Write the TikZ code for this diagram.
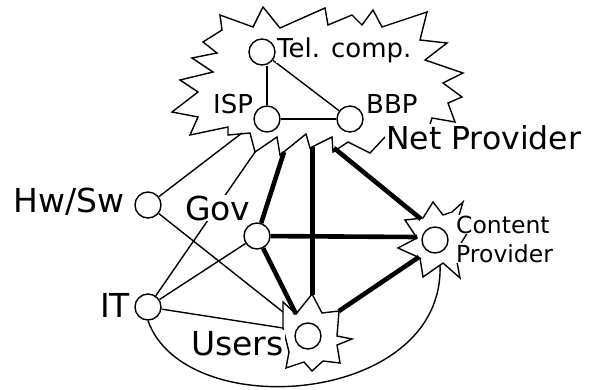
\documentclass[tikz,border=0pt]{standalone}
\usepackage{fontspec}
\setmainfont{DejaVu Sans}
\begin{document}
\begin{tikzpicture}[x=1pt,y=-1pt,
  dot/.style={circle, draw, line width=1.4pt, minimum size=26pt, inner sep=0pt, fill=white},
  thin/.style={line width=1.4pt},
  heavy/.style={line width=4.6pt},
  burst/.style={draw, line width=1.4pt, line join=miter, miter limit=20},
  lbl/.style={inner sep=1pt, fill=white, anchor=base west},
  bigf/.style={font=\fontsize{33}{39}\selectfont},
  npf/.style={font=\fontsize{31.5}{37}\selectfont},
  midf/.style={font=\fontsize{26}{30}\selectfont},
  smallf/.style={font=\fontsize{23.5}{29}\selectfont}]
\useasboundingbox (0,0) rectangle (610,389);

% Net Provider burst
\draw[burst] (180,80) -- (213,72) -- (192,58) -- (217,53) -- (203,42) -- (222,30) -- (220,15)
  -- (253,27) -- (263,7) -- (280,28) -- (325,8) -- (328,25) -- (352,15) -- (362,25) -- (373,10)
  -- (382,27) -- (427,12) -- (420,40) -- (447,43) -- (425,60) -- (463,73) -- (443,83) -- (462,97)
  -- (448,103) -- (455,122) -- (432,118) -- (425,140) -- (398,142) -- (385,137) -- (370,153)
  -- (348,142) -- (333,152) -- (332,137) -- (310,148) -- (306,134) -- (280,155) -- (277,137)
  -- (255,152) -- (250,133) -- (228,135) -- (228,127) -- (190,135) -- (198,117) -- (172,112)
  -- (198,92) -- cycle;
% Users burst
\draw[burst] (283,302) -- (296,314) -- (312,294) -- (322,313) -- (339,311) -- (337,336) -- (352,339)
  -- (337,345) -- (340,363) -- (323,361) -- (312,371) -- (304,362) -- (286,368) -- (289,352)
  -- (283,328) -- cycle;
% Content Provider burst
\draw[burst] (433,202) -- (443,215) -- (452,212) -- (463,202) -- (457,222) -- (468,232) -- (458,248)
  -- (457,262) -- (460,278) -- (443,263) -- (423,277) -- (420,258) -- (398,248) -- (417,238)
  -- (405,220) -- (423,218) -- cycle;

% nodes
\node[dot] (tel) at (262,52) {};
\node[dot] (isp) at (267,119) {};
\node[dot] (bbp) at (350,119) {};
\node[dot] (hw) at (148,205) {};
\node[dot] (gov) at (257,236) {};
\node[dot] (it) at (148,307) {};
\node[dot] (us) at (308,336) {};
\node[dot] (co) at (435,240) {};

% attachment points on bursts
\coordinate (npHw) at (242,133);
\coordinate (npIT) at (255,152);
\coordinate (npGov) at (284,152);
\coordinate (npUs) at (312.5,147);
\coordinate (npCo) at (334,148);
\coordinate (usHw) at (283,312);
\coordinate (usIT) at (283,328);
\coordinate (usGov) at (296,314);
\coordinate (usNP) at (312.5,295);
\coordinate (usCo) at (339,311);
\coordinate (coGov) at (417,237);
\coordinate (coNP) at (421,219);
\coordinate (coUs) at (419,257);
\coordinate (coIT) at (440,265);

% thin edges
\draw[thin] (isp.north) -- (isp.north |- tel.south);
\draw[thin] (tel) -- (bbp);
\draw[thin] (isp) -- (bbp);
\draw[thin] (hw) -- (npHw);
\draw[thin] (it) -- (npIT);
\draw[thin] (hw) -- (usHw);
\draw[thin] (it) -- (gov);
\draw[thin] (it) -- (usIT);
\draw[thin] (it.south) .. controls (185,425) and (445,405) .. (coIT);

% thick edges
\draw[heavy] (gov) -- (npGov);
\draw[heavy] (gov) -- (coGov);
\draw[heavy] (gov) -- (usGov);
\draw[heavy] (usNP) -- (npUs);
\draw[heavy] (coNP) -- (npCo);
\draw[heavy] (coUs) -- (usCo);

% labels
\node[lbl,midf] (ltel) at (276,57) {Tel. comp.};
\node[lbl,midf] (lisp) at (212,113) {ISP};
\node[lbl,midf] (lbbp) at (365,113) {BBP};
\node[lbl,npf] (lnp) at (385,149) {Net Provider};
\node[lbl,bigf] (lhw) at (12,212) {Hw/Sw};
\node[lbl,bigf] (lgov) at (184,220) {Gov};
\node[lbl,bigf] (lit) at (99,317) {IT};
\node[lbl,bigf] (lus) at (190,355) {Users};
\node[lbl,smallf] (lco1) at (455,233) {Content};
\node[lbl,smallf] (lco2) at (455,262) {Provider};
\end{tikzpicture}
\end{document}
